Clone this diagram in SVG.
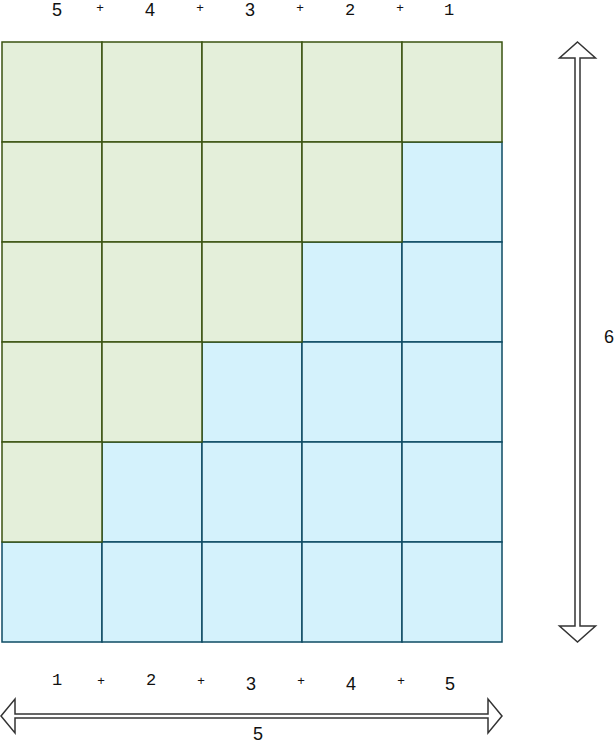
<svg xmlns="http://www.w3.org/2000/svg" width="615" height="744" viewBox="0 0 615 744">
<style>
.b{fill:#d4f2fc;stroke:#0e4b63;stroke-width:1.5}
.g{fill:#e4efda;stroke:#3a5311;stroke-width:1.5}
.s{font-family:"Liberation Sans",Arial,sans-serif;font-size:18px;fill:#111;text-anchor:middle}
.m{font-family:"Liberation Mono","Courier New",monospace;font-size:17px;fill:#111;text-anchor:middle}
.p{font-family:"Liberation Sans",Arial,sans-serif;font-size:13px;fill:#111;text-anchor:middle}
.arr{fill:#fff;stroke:#333;stroke-width:1.5;stroke-linejoin:miter}
</style>
<g id="grid">
<g id="blue-cells">
<rect class="b" x="402" y="142" width="100" height="100"/>
<rect class="b" x="302" y="242" width="100" height="100"/>
<rect class="b" x="402" y="242" width="100" height="100"/>
<rect class="b" x="202" y="342" width="100" height="100"/>
<rect class="b" x="302" y="342" width="100" height="100"/>
<rect class="b" x="402" y="342" width="100" height="100"/>
<rect class="b" x="102" y="442" width="100" height="100"/>
<rect class="b" x="202" y="442" width="100" height="100"/>
<rect class="b" x="302" y="442" width="100" height="100"/>
<rect class="b" x="402" y="442" width="100" height="100"/>
<rect class="b" x="2" y="542" width="100" height="100"/>
<rect class="b" x="102" y="542" width="100" height="100"/>
<rect class="b" x="202" y="542" width="100" height="100"/>
<rect class="b" x="302" y="542" width="100" height="100"/>
<rect class="b" x="402" y="542" width="100" height="100"/>
</g>
<g id="green-cells">
<rect class="g" x="2" y="42" width="100" height="100"/>
<rect class="g" x="102" y="42" width="100" height="100"/>
<rect class="g" x="202" y="42" width="100" height="100"/>
<rect class="g" x="302" y="42" width="100" height="100"/>
<rect class="g" x="402" y="42" width="100" height="100"/>
<rect class="g" x="2" y="142" width="100" height="100"/>
<rect class="g" x="102" y="142" width="100" height="100"/>
<rect class="g" x="202" y="142" width="100" height="100"/>
<rect class="g" x="302" y="142" width="100" height="100"/>
<rect class="g" x="2" y="242" width="100" height="100"/>
<rect class="g" x="102" y="242" width="100" height="100"/>
<rect class="g" x="202" y="242" width="100" height="100"/>
<rect class="g" x="2" y="342" width="100" height="100"/>
<rect class="g" x="102" y="342" width="100" height="100"/>
<rect class="g" x="2" y="442" width="100" height="100"/>
</g>
</g>
<g id="top-labels">
<text class="s" x="57" y="16">5</text>
<text class="p" x="100" y="12">+</text>
<text class="s" x="150" y="16">4</text>
<text class="p" x="200" y="12">+</text>
<text class="s" x="250" y="16">3</text>
<text class="p" x="300" y="12">+</text>
<text class="m" x="350" y="15">2</text>
<text class="p" x="400" y="12">+</text>
<text class="m" x="449" y="15">1</text>
</g>
<g id="bottom-labels">
<text class="m" x="57" y="685">1</text>
<text class="p" x="101" y="685">+</text>
<text class="m" x="151" y="685">2</text>
<text class="p" x="201" y="685">+</text>
<text class="s" x="251" y="690">3</text>
<text class="p" x="301" y="685">+</text>
<text class="s" x="351" y="690">4</text>
<text class="p" x="401" y="685">+</text>
<text class="s" x="450" y="690">5</text>
</g>
<g id="connectors">
<polygon class="arr" points="577.5,42 595.5,58 580,58 580,626 595.5,626 577.5,642 559.5,626 575,626 575,58 559.5,58"/>
<polygon class="arr" points="1,716 15,699 15,714 488,714 488,699 502,716 488,733 488,718 15,718 15,733"/>
</g>
<g id="dimension-labels">
<text class="s" x="609" y="343">6</text>
<text class="s" x="258" y="740">5</text>
</g>
</svg>
